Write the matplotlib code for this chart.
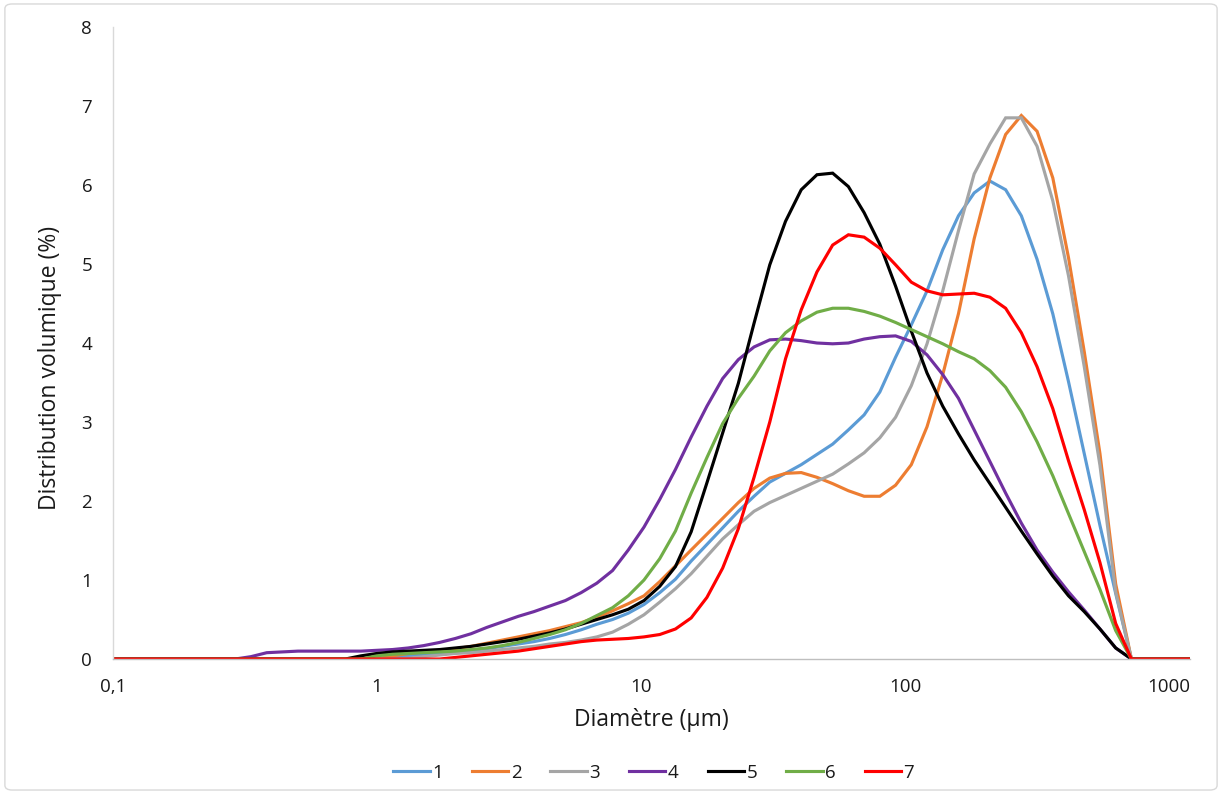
import matplotlib
matplotlib.use("Agg")
import matplotlib.pyplot as plt
from matplotlib.patches import FancyBboxPatch
from matplotlib.ticker import FixedLocator, NullLocator

plt.rcParams['font.family'] = ['Open Sans', 'DejaVu Sans']

# Diameters (µm)
diameters = [0.1,
             0.290, 0.333, 0.382, 0.438, 0.502, 0.576, 0.661, 0.758, 0.869, 0.997,
             1.144, 1.312, 1.504, 1.726, 1.979, 2.270, 2.604, 2.986, 3.425, 3.929,
             4.506, 5.168, 5.928, 6.799, 7.799, 8.945, 10.26, 11.77, 13.50, 15.48,
             17.76, 20.37, 23.36, 26.79, 30.73, 35.25, 40.43, 46.37, 53.18, 61.00,
             69.97, 80.25, 92.05, 105.6, 121.1, 138.9, 159.3, 182.7, 209.6, 240.4,
             275.7, 316.2, 362.7, 416.0, 477.2, 547.3, 627.7, 720.0,
             1200]

s1 = [0] + [0]*10 + [0.02, 0.04, 0.06, 0.07, 0.09, 0.11, 0.13, 0.16, 0.19, 0.22,
             0.26, 0.31, 0.37, 0.44, 0.50, 0.58, 0.69, 0.84, 1.01, 1.24,
             1.45, 1.66, 1.87, 2.06, 2.24, 2.35, 2.46, 2.59, 2.72, 2.90,
             3.09, 3.38, 3.82, 4.23, 4.66, 5.18, 5.61, 5.90, 6.05, 5.94,
             5.61, 5.06, 4.37, 3.51, 2.60, 1.69, 0.83, 0] + [0]
s2 = [0] + [0]*10 + [0.04, 0.07, 0.09, 0.11, 0.13, 0.16, 0.20, 0.24, 0.28, 0.32,
             0.36, 0.41, 0.46, 0.53, 0.61, 0.70, 0.80, 0.98, 1.18, 1.38,
             1.58, 1.78, 1.98, 2.16, 2.29, 2.35, 2.36, 2.30, 2.22, 2.13,
             2.06, 2.06, 2.20, 2.46, 2.94, 3.60, 4.37, 5.32, 6.09, 6.64,
             6.88, 6.68, 6.09, 5.08, 3.89, 2.60, 0.95, 0] + [0]
s3 = [0] + [0]*11 + [0.01, 0.03, 0.05, 0.07, 0.08, 0.10, 0.12, 0.14, 0.16,
             0.19, 0.21, 0.24, 0.28, 0.34, 0.44, 0.56, 0.72, 0.89, 1.08,
             1.30, 1.52, 1.70, 1.87, 1.98, 2.07, 2.16, 2.25, 2.34, 2.47,
             2.61, 2.80, 3.06, 3.46, 3.99, 4.66, 5.42, 6.14, 6.52, 6.85,
             6.85, 6.49, 5.80, 4.85, 3.70, 2.45, 0.85, 0] + [0]
s4 = [0] + [0, 0.03, 0.08, 0.09, 0.10, 0.10, 0.10, 0.10, 0.10, 0.11,
            0.12, 0.14, 0.17, 0.21, 0.26, 0.32, 0.40, 0.47, 0.54, 0.60,
            0.67, 0.74, 0.84, 0.96, 1.12, 1.38, 1.67, 2.02, 2.40, 2.81,
            3.20, 3.55, 3.79, 3.95, 4.04, 4.05, 4.03, 4.00, 3.99, 4.00,
            4.05, 4.08, 4.09, 4.02, 3.85, 3.60, 3.30, 2.90, 2.50, 2.10,
            1.72, 1.38, 1.10, 0.85, 0.62, 0.38, 0.14, 0] + [0]
s5 = [0] + [0]*8 + [0.04, 0.07, 0.09, 0.10, 0.11, 0.12, 0.14, 0.16, 0.19, 0.22,
            0.25, 0.29, 0.33, 0.38, 0.44, 0.50, 0.56, 0.63, 0.74, 0.92,
            1.17, 1.61, 2.23, 2.86, 3.49, 4.25, 4.99, 5.54, 5.94, 6.13,
            6.15, 5.98, 5.65, 5.25, 4.72, 4.15, 3.62, 3.20, 2.85, 2.52,
            2.22, 1.92, 1.62, 1.33, 1.05, 0.80, 0.60, 0.38, 0.14, 0] + [0]
s6 = [0] + [0]*9 + [0.04, 0.06, 0.07, 0.08, 0.09, 0.10, 0.12, 0.14, 0.17, 0.21,
            0.26, 0.31, 0.37, 0.45, 0.55, 0.65, 0.80, 1.00, 1.27, 1.62,
            2.10, 2.55, 2.98, 3.30, 3.58, 3.90, 4.13, 4.28, 4.39, 4.44,
            4.44, 4.40, 4.34, 4.26, 4.17, 4.08, 3.99, 3.89, 3.80, 3.65,
            3.44, 3.13, 2.75, 2.32, 1.84, 1.36, 0.88, 0.36, 0] + [0]
s7 = [0] + [0]*14 + [0.02, 0.04, 0.06, 0.08, 0.10, 0.13, 0.16, 0.19, 0.22, 0.24,
            0.25, 0.26, 0.28, 0.31, 0.38, 0.52, 0.78, 1.15, 1.65, 2.30,
            3.00, 3.80, 4.42, 4.90, 5.24, 5.37, 5.34, 5.20, 4.99, 4.77,
            4.66, 4.61, 4.62, 4.63, 4.58, 4.44, 4.13, 3.70, 3.17, 2.51,
            1.89, 1.22, 0.45, 0] + [0]

series = [s1, s2, s3, s4, s5, s6, s7]
labels = ["1", "2", "3", "4", "5", "6", "7"]
colors = ["#5B9BD5", "#ED7D31", "#A5A5A5", "#7030A0", "#000000", "#70AD47", "#FF0000"]

xticks = [0.1, 1, 10, 100, 1000]
xticklabels = ["0,1", "1", "10", "100", "1000"]
yticks = [0, 1, 2, 3, 4, 5, 6, 7, 8]

fig = plt.figure(figsize=(12.22, 7.94), dpi=100)
ax = fig.add_axes([0.0925, 0.170, 0.8813, 0.796])

for s, lab, c in zip(series, labels, colors):
    ax.plot(diameters, s, color=c, lw=2.25, label=lab, solid_joinstyle='miter')

ax.set_xscale('log')
ax.set_xlim(0.1, 1200)
ax.set_ylim(0, 8)
ax.xaxis.set_major_locator(FixedLocator(xticks))
ax.xaxis.set_minor_locator(NullLocator())
ax.set_xticklabels(xticklabels)
ax.set_yticks(yticks)
ax.tick_params(axis='both', length=0, labelsize=13.5, labelcolor='#1a1a1a')
ax.tick_params(axis='x', pad=14)
ax.tick_params(axis='y', pad=15)

for side in ['top', 'right']:
    ax.spines[side].set_visible(False)
ax.spines['left'].set_color('#D9D9D9')
ax.spines['bottom'].set_color('#BFBFBF')
ax.spines['left'].set_linewidth(1)
ax.spines['bottom'].set_linewidth(1)

ax.set_xlabel("Diamètre (µm)", fontsize=16.5, labelpad=8, color='#1a1a1a')
ax.set_ylabel("Distribution volumique (%)", fontsize=16.5, labelpad=12, color='#1a1a1a')
ax.yaxis.set_label_coords(-0.047, 0.46)

leg = fig.legend(loc='center', bbox_to_anchor=(0.535, 0.027), ncol=7, frameon=False,
                 fontsize=13.5, handlelength=1.95, columnspacing=1.55, handletextpad=0.12)
for t in leg.get_texts():
    t.set_color('#1a1a1a')

border = FancyBboxPatch((0.004, 0.005), 0.992, 0.99, boxstyle="round,pad=0,rounding_size=0.006",
                        transform=fig.transFigure, fill=False, edgecolor='#D9D9D9', lw=1)
fig.patches.append(border)

fig.savefig("out.png", dpi=100)
